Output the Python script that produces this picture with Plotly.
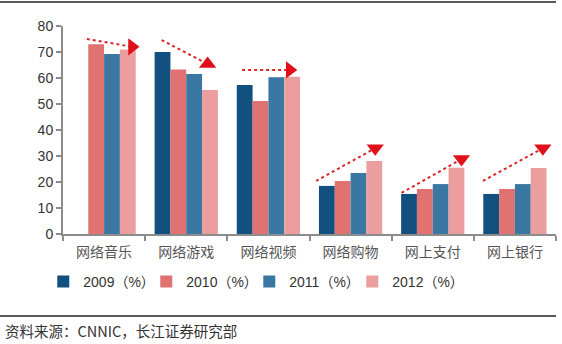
import plotly.graph_objects as go

categories = ["网络音乐", "网络游戏", "网络视频", "网络购物", "网上支付", "网上银行"]
series_names = ["2009（%）", "2010（%）", "2011（%）", "2012（%）"]
v2009 = [None, 70.0, 57.3, 18.5, 15.4, 15.4]
v2010 = [73.0, 63.3, 51.2, 20.4, 17.3, 17.3]
v2011 = [69.2, 61.5, 60.3, 23.5, 19.2, 19.2]
v2012 = [71.0, 55.4, 60.5, 28.1, 25.5, 25.4]
yticks = [0, 10, 20, 30, 40, 50, 60, 70, 80]

# trend arrows (start -> end) per category, in category-index / value units
arrow_x0 = [-0.21, 0.70, 1.68, 2.58, 3.62, 4.61]
arrow_y0 = [75.0, 74.6, 63.1, 20.4, 15.8, 20.4]
arrow_x1 = [0.34, 1.26, 2.26, 3.30, 4.35, 5.34]
arrow_y1 = [72.0, 65.4, 63.1, 33.0, 28.8, 33.0]
arrow_sym = ["triangle-right", "triangle-up", "triangle-right",
             "triangle-down", "triangle-down", "triangle-down"]

colors = ["#12507f", "#e07272", "#3b77a3", "#ec9e9e"]
values = [v2009, v2010, v2011, v2012]

fig = go.Figure()
for name, vals, c in zip(series_names, values, colors):
    fig.add_trace(go.Bar(x=categories, y=vals, name=name, marker_color=c,
                         marker_line_width=0))

for x0, y0, x1, y1, s in zip(arrow_x0, arrow_y0, arrow_x1, arrow_y1, arrow_sym):
    fig.add_trace(go.Scatter(x=[x0, x1], y=[y0, y1], xaxis="x2", mode="lines",
                             line=dict(color="#d9262b", dash="dot", width=2),
                             showlegend=False, hoverinfo="skip"))
    fig.add_trace(go.Scatter(x=[x1], y=[y1], xaxis="x2", mode="markers",
                             marker=dict(symbol=s, size=15, color="#e0101a"),
                             showlegend=False, hoverinfo="skip"))

font_cjk = "Noto Sans CJK SC, DejaVu Sans, sans-serif"
fig.update_layout(
    width=562, height=344,
    margin=dict(l=63, r=6, t=26, b=110),
    paper_bgcolor="white", plot_bgcolor="white",
    barmode="group", bargap=0.23, bargroupgap=0,
    font=dict(family=font_cjk, color="#444", size=13),
    xaxis=dict(type="category", showline=True, linecolor="#8c8c8c", linewidth=2,
               ticks="outside", tickson="boundaries", ticklen=5, tickcolor="#8c8c8c",
               tickwidth=2, showgrid=False, ticklabelstandoff=4,
               tickfont=dict(size=14, color="#555", family=font_cjk)),
    xaxis2=dict(overlaying="x", range=[-0.5, 5.5], visible=False),
    yaxis=dict(range=[0, 80], tickvals=yticks, showline=True, linecolor="#8c8c8c",
               linewidth=2, ticks="outside", ticklen=5, tickcolor="#8c8c8c",
               tickwidth=2, showgrid=False, zeroline=False,
               tickfont=dict(size=14, color="#333", family="Liberation Sans, sans-serif")),
    legend=dict(orientation="h", x=-0.04, xanchor="left", y=-0.23, yanchor="middle",
                entrywidth=58, entrywidthmode="pixels", itemwidth=30,
                font=dict(size=14, color="#333", family="Liberation Sans, " + font_cjk)),
    showlegend=True,
)

fig.add_shape(type="line", xref="paper", yref="paper", x0=-0.128, x1=1.0,
              y0=1.115, y1=1.115, line=dict(color="#222", width=1.5))
fig.add_shape(type="line", xref="paper", yref="paper", x0=-0.128, x1=1.0,
              y0=-0.394, y1=-0.394, line=dict(color="#222", width=1.5))
fig.add_annotation(text="资料来源：CNNIC，长江证券研究部", xref="paper", yref="paper",
                   x=-0.122, y=-0.466, xanchor="left", yanchor="middle",
                   showarrow=False, font=dict(size=14.5, color="#333", family=font_cjk))

fig.write_html("out.html")
